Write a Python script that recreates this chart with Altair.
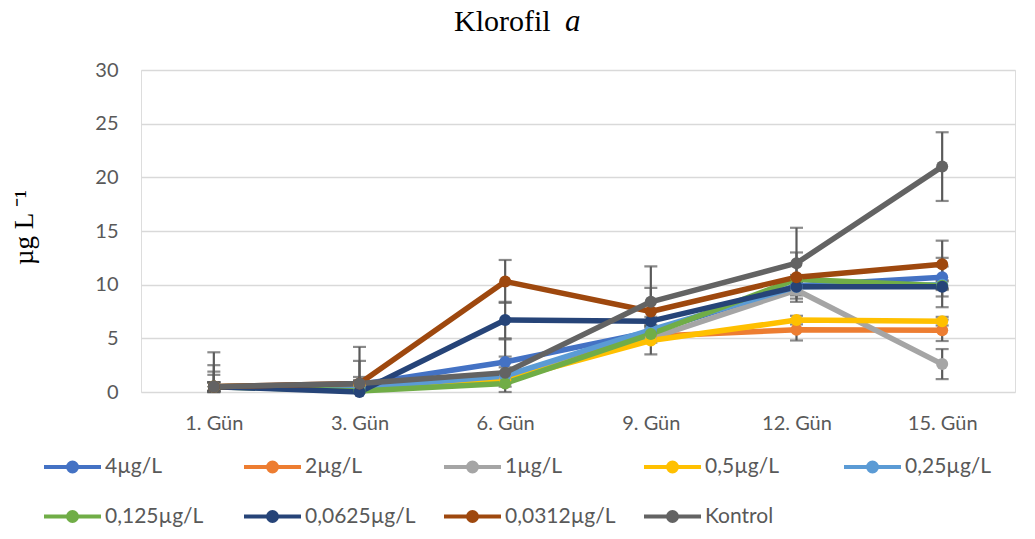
import altair as alt
import pandas as pd

days = ["1. Gün", "3. Gün", "6. Gün", "9. Gün", "12. Gün", "15. Gün"]
series = ["4µg/L", "2µg/L", "1µg/L", "0,5µg/L", "0,25µg/L",
          "0,125µg/L", "0,0625µg/L", "0,0312µg/L", "Kontrol"]
colors = ["#4472C4", "#ED7D31", "#A5A5A5", "#FFC000", "#5B9BD5",
          "#70AD47", "#264478", "#9E480E", "#636363"]

values = {
    "4µg/L":      [0.5, 0.7, 2.8, 5.6, 9.9, 10.7],
    "2µg/L":      [0.5, 0.7, 1.3, 5.2, 5.8, 5.75],
    "1µg/L":      [0.5, 0.7, 1.2, 5.0, 9.5, 2.6],
    "0,5µg/L":    [0.5, 0.6, 1.1, 4.8, 6.7, 6.6],
    "0,25µg/L":   [0.5, 0.4, 1.5, 5.8, 9.8, 10.0],
    "0,125µg/L":  [0.5, 0.1, 0.8, 5.4, 10.5, 9.9],
    "0,0625µg/L": [0.5, 0.0, 6.7, 6.6, 9.8, 9.8],
    "0,0312µg/L": [0.5, 0.8, 10.3, 7.5, 10.7, 11.9],
    "Kontrol":    [0.5, 0.8, 1.8, 8.4, 12.0, 21.0],
}
errors = {
    "4µg/L":      [1.1, 0.4, 0.5, 0.4, 0.5, 1.8],
    "2µg/L":      [0.4, 0.3, 0.3, 0.4, 1.0, 1.0],
    "1µg/L":      [0.4, 0.3, 0.3, 0.4, 0.5, 1.4],
    "0,5µg/L":    [0.4, 0.3, 0.3, 1.3, 0.4, 0.4],
    "0,25µg/L":   [0.4, 0.3, 0.3, 0.4, 0.4, 0.4],
    "0,125µg/L":  [1.4, 0.3, 0.3, 0.4, 0.4, 0.4],
    "0,0625µg/L": [0.4, 1.4, 1.7, 0.4, 0.4, 1.9],
    "0,0312µg/L": [2.0, 2.1, 2.0, 2.2, 2.3, 2.2],
    "Kontrol":    [3.2, 3.4, 3.1, 3.3, 3.3, 3.2],
}

rows = []
for s in series:
    for d, v, e in zip(days, values[s], errors[s]):
        rows.append({"day": d, "series": s, "v": v, "e": e})
df = pd.DataFrame(rows)

GRAY = "#595959"
LABEL_FONT = "Lato"

x_enc = alt.X("day:N", sort=days, scale=alt.Scale(type="point", padding=0.5),
              axis=alt.Axis(title=None, labelFont=LABEL_FONT, labelFontSize=20,
                            labelColor=GRAY, labelPadding=21, labelAngle=0,
                            domain=False, ticks=False, grid=False))
y_scale = alt.Scale(domain=[0, 30], nice=False)

base = alt.Chart(df)

err = base.transform_calculate(
    lo="max(datum.v - datum.e, 0)", hi="datum.v + datum.e"
)
err_rule = err.mark_rule(color="#5A5A5A", strokeWidth=2.2).encode(
    x=x_enc, y=alt.Y("lo:Q", scale=y_scale), y2="hi:Q"
)
cap_hi = err.mark_tick(color="#5A5A5A", thickness=2.2, size=13).encode(
    x=x_enc, y=alt.Y("hi:Q", scale=y_scale)
)
cap_lo = err.mark_tick(color="#5A5A5A", thickness=2.2, size=13).encode(
    x=x_enc, y=alt.Y("lo:Q", scale=y_scale)
)

sym_path = ("M-1,0L1,0"
            "M-0.053,0A0.053,0.053 0 1,0 0.053,0A0.053,0.053 0 1,0 -0.053,0"
            "M-0.158,0A0.158,0.158 0 1,0 0.158,0A0.158,0.158 0 1,0 -0.158,0")

lines = base.mark_line(
    strokeWidth=5.5, strokeCap="round", strokeJoin="round",
    point=alt.OverlayMarkDef(filled=True, size=145)
).encode(
    x=x_enc,
    y=alt.Y("v:Q", scale=y_scale,
            axis=alt.Axis(title="µg   L  ⁻¹", titleFont="Liberation Serif",
                          titleFontSize=27, titleFontWeight="normal",
                          titleColor="#000000", titleAngle=-90,
                          titleX=-117, titleY=157, titleBaseline="middle",
                          titleAlign="center",
                          values=[0, 5, 10, 15, 20, 25, 30],
                          labelFont=LABEL_FONT, labelFontSize=20,
                          labelColor=GRAY, labelPadding=23,
                          domain=False, ticks=False,
                          gridColor="#D9D9D9", gridWidth=1.5)),
    color=alt.Color("series:N", sort=series,
                    scale=alt.Scale(domain=series, range=colors),
                    legend=alt.Legend(
                        title=None, orient="none", legendX=-99, legendY=366,
                        columns=5, direction="horizontal",
                        symbolType=sym_path, symbolSize=3249,
                        symbolStrokeWidth=4,
                        labelFont=LABEL_FONT, labelFontSize=21,
                        labelColor=GRAY, labelOffset=2,
                        columnPadding=20, rowPadding=6,
                        gridAlign="all")),
)

title_df = pd.DataFrame({"t": ["Klorofil"], "a": ["a"]})
title1 = alt.Chart(title_df).mark_text(
    font="Liberation Serif", fontSize=30, align="left", baseline="alphabetic",
    color="#000000"
).encode(text="t:N", x=alt.value(313), y=alt.value(-39))
title2 = alt.Chart(title_df).mark_text(
    font="Liberation Serif", fontSize=31, fontStyle="italic", align="left",
    baseline="alphabetic", color="#000000"
).encode(text="a:N", x=alt.value(424), y=alt.value(-39))

chart = alt.layer(err_rule, cap_hi, cap_lo, lines, title1, title2).properties(
    width=874, height=322,
    autosize=alt.AutoSizeParams(type="none"),
    padding={"left": 133, "top": 62, "right": 12, "bottom": 140},
).configure_view(stroke=None).configure(background="white")

chart.save("out.html", embed_options={"renderer": "svg", "actions": False})
